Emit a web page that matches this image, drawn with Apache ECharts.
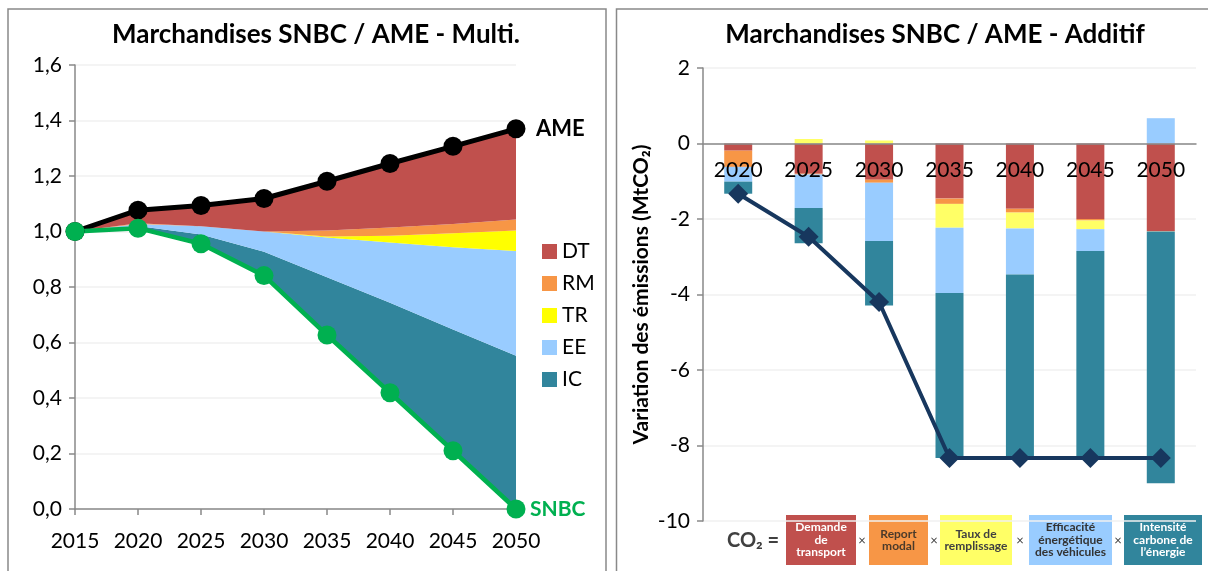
<!DOCTYPE html>
<html>
<head>
<meta charset="utf-8">
<script src="https://cdn.jsdelivr.net/npm/echarts@6/dist/echarts.min.js"></script>
<style>
  html, body { margin: 0; padding: 0; background: #fff; }
  #chart { width: 1208px; height: 571px; }
</style>
</head>
<body>
<div id="chart"></div>
<script>
// --- gauche : décomposition multiplicative (indice 2015 = 1)
const years = ['2015', '2020', '2025', '2030', '2035', '2040', '2045', '2050'];
const ame = [1.0, 1.077, 1.094, 1.119, 1.181, 1.245, 1.307, 1.37];
const snbc = [1.0, 1.012, 0.956, 0.841, 0.627, 0.419, 0.21, 0.0];
// épaisseur de chaque couche, du bas (SNBC) vers le haut (AME)
const icLayer = [0, 0.008, 0.033, 0.086, 0.208, 0.324, 0.437, 0.552];
const eeLayer = [0, 0.007, 0.030, 0.073, 0.143, 0.217, 0.296, 0.378];
const trLayer = [0, 0, 0, 0, 0.004, 0.025, 0.051, 0.074];
const rmLayer = [0, 0.003, 0, 0, 0.022, 0.029, 0.033, 0.039];
const dtLayer = [0, 0.047, 0.075, 0.119, 0.177, 0.231, 0.280, 0.327];
const multiTicks = ['0,0', '0,2', '0,4', '0,6', '0,8', '1,0', '1,2', '1,4', '1,6'];

// --- droite : décomposition additive (MtCO2)
const barYears = ['2020', '2025', '2030', '2035', '2040', '2045', '2050'];
const dtBar = [-0.19, -0.80, -0.96, -1.46, -1.73, -2.00, -2.32];
const rmBar = [-0.43, -0.02, -0.08, -0.14, -0.10, -0.04, -0.01];
const trBar = [0, 0.12, 0.08, -0.63, -0.42, -0.23, 0];
const eeBar = [-0.39, -0.89, -1.54, -1.73, -1.22, -0.58, 0.67];
const icBar = [-0.32, -0.93, -1.71, -4.37, -4.86, -5.48, -6.67];
const totalLine = [-1.33, -2.47, -4.20, -8.33, -8.33, -8.33, -8.33];

const FONT = 'Lato, "Open Sans", sans-serif';
const colors = { DT: '#c0504d', RM: '#f79646', TR: '#ffff00', EE: '#99ccff', IC: '#31859c' };
const axisGrey = '#898989';

const chart = echarts.init(document.getElementById('chart'));

// série d'aire empilée (gauche)
const layer = (name, data) => ({
    name: name,
    type: 'line',
    stack: 'multi',
    xAxisIndex: 0,
    yAxisIndex: 0,
    data: data,
    symbol: 'none',
    lineStyle: { width: 0 },
    itemStyle: { color: colors[name] },
    areaStyle: { color: colors[name], opacity: 1 },
    z: 2,
    silent: true,
});

// barre empilée (droite)
const bar = (name, data, color) => ({
    name: name,
    type: 'bar',
    stack: 'add',
    xAxisIndex: 1,
    yAxisIndex: 1,
    data: data,
    barWidth: 28,
    itemStyle: { color: color || colors[name] },
    z: 2,
});

// cartouche "CO2 = ..." sous le graphique de droite
const boxes = [
    { x: 786, w: 70, fill: '#c0504d', color: '#fff', text: 'Demande\nde\ntransport' },
    { x: 869, w: 59, fill: '#f79646', color: '#4a3a2a', text: 'Report\nmodal' },
    { x: 940, w: 72, fill: '#ffff66', color: '#404040', text: 'Taux de\nremplissage' },
    { x: 1029, w: 83, fill: '#99ccff', color: '#333', text: 'Efficacité\nénergétique\ndes véhicules' },
    { x: 1124, w: 78, fill: '#31859c', color: '#fff', text: 'Intensité\ncarbone de\nl\u2019énergie' },
];
const timesX = [862, 934, 1020, 1118];

const graphics = [
    { type: 'rect', shape: { x: 8, y: 9, width: 598, height: 600 }, style: { fill: 'none', stroke: axisGrey, lineWidth: 1.5 }, silent: true },
    { type: 'rect', shape: { x: 616.5, y: 9, width: 600, height: 600 }, style: { fill: 'none', stroke: axisGrey, lineWidth: 1.5 }, silent: true },
    { type: 'text', x: 727, y: 541, style: { text: 'CO\u2082 =', font: 'bold 20px ' + FONT, fill: '#404040', verticalAlign: 'middle' } },
];
boxes.forEach(b => {
    graphics.push({ type: 'rect', shape: { x: b.x, y: 515, width: b.w, height: 50 }, style: { fill: b.fill } });
    graphics.push({
        type: 'text', x: b.x + b.w / 2, y: 540,
        style: { text: b.text, font: 'bold 12px ' + FONT, fill: b.color, align: 'center', verticalAlign: 'middle', lineHeight: 12.5 }
    });
});
timesX.forEach(x => {
    graphics.push({ type: 'text', x: x, y: 541, style: { text: '\u00d7', font: '13px ' + FONT, fill: '#404040', align: 'center', verticalAlign: 'middle' } });
});

const option = {
    animation: false,
    textStyle: { fontFamily: FONT },
    title: [
        { text: 'Marchandises SNBC / AME - Multi.', left: 311, top: 17, textAlign: 'center',
          textStyle: { fontSize: 26, fontWeight: 'bold', color: '#000', fontFamily: FONT } },
        { text: 'Marchandises SNBC / AME - Additif', left: 930, top: 17, textAlign: 'center',
          textStyle: { fontSize: 26, fontWeight: 'bold', color: '#000', fontFamily: FONT } },
    ],
    legend: {
        data: ['DT', 'RM', 'TR', 'EE', 'IC'],
        orient: 'vertical',
        left: 537,
        top: 236,
        icon: 'rect',
        itemWidth: 15,
        itemHeight: 15,
        itemGap: 11,
        selectedMode: false,
        textStyle: { fontSize: 21, color: '#000', fontFamily: FONT },
    },
    graphic: graphics,
    grid: [
        { left: 75, top: 65, width: 441, height: 444 },
        { left: 703, top: 68, width: 493, height: 453 },
    ],
    xAxis: [
        {
            gridIndex: 0, type: 'category', data: years, boundaryGap: false,
            axisLine: { lineStyle: { color: axisGrey, width: 1.5 } },
            axisTick: { length: 6, interval: 0, lineStyle: { color: axisGrey, width: 1.5 } },
            axisLabel: { fontSize: 21, color: '#000', margin: 22, interval: 0, hideOverlap: false },
        },
        {
            // axe placé sur la ligne zéro (453 px * 10/12 au-dessus du bas)
            gridIndex: 1, type: 'category', data: barYears,
            offset: -377.5,
            axisLine: { onZero: false, lineStyle: { color: axisGrey, width: 1.5 } },
            axisTick: { length: 8, lineStyle: { color: axisGrey, width: 1.5 } },
            axisLabel: { fontSize: 21, color: '#000', margin: 16, interval: 0 },
            z: 3,
        },
    ],
    yAxis: [
        {
            gridIndex: 0, type: 'value', min: 0, max: 1.6, interval: 0.2,
            axisLine: { show: true, lineStyle: { color: axisGrey, width: 1.5 } },
            axisTick: { show: true, length: 6, lineStyle: { color: axisGrey, width: 1.5 } },
            axisLabel: { fontSize: 21, color: '#000', margin: 13,
                         formatter: (v) => multiTicks[Math.round(v / 0.2)] },
            splitLine: { lineStyle: { color: '#f0f0f0', width: 1.5 } },
        },
        {
            gridIndex: 1, type: 'value', min: -10, max: 2, interval: 2,
            name: 'Variation des émissions (MtCO\u2082)',
            nameLocation: 'middle',
            nameGap: 51,
            nameTextStyle: { fontSize: 21, fontWeight: 'bold', color: '#000', fontFamily: FONT },
            axisLine: { show: true, lineStyle: { color: axisGrey, width: 1.5 } },
            axisTick: { show: true, length: 6, lineStyle: { color: axisGrey, width: 1.5 } },
            axisLabel: { fontSize: 21, color: '#000', margin: 13 },
            splitLine: { lineStyle: { color: '#f0f0f0', width: 1.5 } },
        },
    ],
    series: [
        {
            name: 'base', type: 'line', stack: 'multi', xAxisIndex: 0, yAxisIndex: 0,
            data: snbc, symbol: 'none', lineStyle: { width: 0 }, silent: true,
        },
        layer('IC', icLayer),
        layer('EE', eeLayer),
        layer('TR', trLayer),
        layer('RM', rmLayer),
        layer('DT', dtLayer),
        {
            name: 'AME', type: 'line', xAxisIndex: 0, yAxisIndex: 0, data: ame,
            symbol: 'circle', symbolSize: 19,
            lineStyle: { color: '#000', width: 5 }, itemStyle: { color: '#000' },
            endLabel: { show: true, formatter: 'AME', distance: 20, fontSize: 22, fontWeight: 'bold', color: '#000', fontFamily: FONT },
            z: 4,
        },
        {
            name: 'SNBC', type: 'line', xAxisIndex: 0, yAxisIndex: 0, data: snbc,
            symbol: 'circle', symbolSize: 19,
            lineStyle: { color: '#00b050', width: 4.5 }, itemStyle: { color: '#00b050' },
            endLabel: { show: true, formatter: 'SNBC', distance: 14, fontSize: 21, fontWeight: 'bold', color: '#00b050', fontFamily: FONT },
            z: 4,
        },
        bar('DT', dtBar),
        bar('RM', rmBar),
        bar('TR', trBar, '#ffff66'),
        bar('EE', eeBar),
        bar('IC', icBar),
        {
            name: 'Total', type: 'line', xAxisIndex: 1, yAxisIndex: 1, data: totalLine,
            symbol: 'diamond', symbolSize: 20,
            lineStyle: { color: '#17375e', width: 4 }, itemStyle: { color: '#17375e' },
            z: 5,
        },
    ],
};

chart.setOption(option);
</script>
</body>
</html>
